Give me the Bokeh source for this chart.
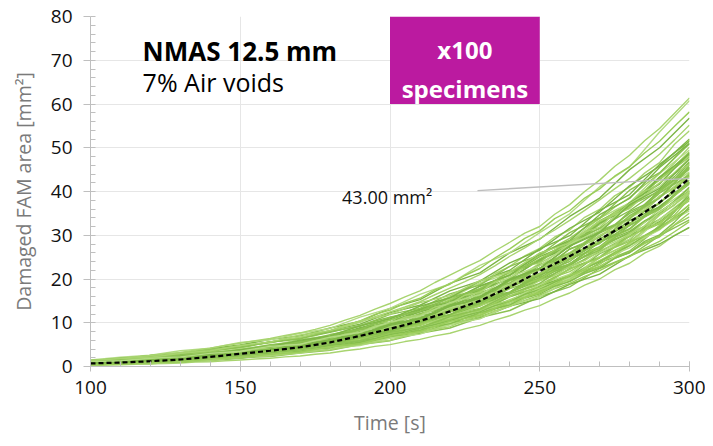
from bokeh.plotting import figure
from bokeh.models import Range1d, SingleIntervalTicker, Label, BoxAnnotation
from bokeh.embed import file_html
from bokeh.resources import INLINE

# time axis (s): coarse readings every 10 s, fine readings every 5 s
time_s = [100, 110, 120, 130, 140, 150, 160, 170, 180, 190, 200,
          210, 220, 230, 240, 250, 260, 270, 280, 290, 300]
time_fine = [100, 105, 110, 115, 120, 125, 130, 135, 140, 145, 150,
             155, 160, 165, 170, 175, 180, 185, 190, 195, 200,
             205, 210, 215, 220, 225, 230, 235, 240, 245, 250,
             255, 260, 265, 270, 275, 280, 285, 290, 295, 300]

mean_area = [0.7, 0.9, 1.2, 1.6, 2.2, 2.9, 3.6, 4.4, 5.5, 7.0, 8.6,
             10.4, 12.6, 15.0, 18.2, 21.8, 25.2, 29.0, 33.0, 37.5, 43.0]

spec01 = [0.5, 0.8, 1.0, 1.5, 1.8, 2.6, 3.2, 4.1, 5.0, 6.5, 7.8, 9.8, 11.6, 14.3, 16.9, 20.4, 23.1, 27.3, 30.5, 35.4, 39.8]
spec02 = [1.2, 1.4, 2.1, 2.6, 3.6, 4.3, 5.6, 6.5, 8.2, 9.7, 12.3, 14.0, 17.3, 19.5, 23.7, 26.6, 31.6, 35.3, 41.3, 45.8, 52.0]
spec03 = [0.8, 1.1, 1.2, 1.7, 2.0, 2.8, 3.1, 4.0, 4.7, 6.2, 7.2, 8.9, 10.4, 12.8, 14.7, 17.9, 20.3, 24.2, 27.1, 31.7, 35.6]
spec04 = [0.6, 1.0, 1.1, 1.9, 2.4, 3.4, 4.0, 5.2, 6.1, 8.1, 9.6, 12.1, 14.1, 17.3, 20.1, 24.5, 27.6, 32.9, 36.7, 42.8, 47.9]
spec05 = [1.4, 1.7, 2.5, 3.0, 4.1, 4.9, 6.2, 7.0, 8.8, 10.3, 13.3, 15.3, 19.0, 21.4, 26.0, 29.1, 34.3, 38.5, 45.0, 50.0, 56.8]
spec06 = [1.5, 2.1, 2.6, 3.6, 4.2, 5.5, 6.1, 7.6, 8.7, 11.3, 13.3, 16.5, 18.9, 23.1, 26.0, 30.6, 34.9, 41.1, 45.6, 53.6, 60.8]
spec07 = [0.3, 0.6, 0.6, 1.1, 1.3, 2.0, 2.3, 3.1, 3.7, 5.0, 5.9, 7.6, 8.8, 11.2, 12.8, 16.0, 18.2, 22.4, 25.2, 29.9, 33.5]
spec08 = [0.4, 0.5, 0.9, 1.0, 1.6, 1.9, 2.7, 3.2, 4.2, 5.1, 6.8, 7.6, 9.9, 11.0, 13.8, 15.5, 18.8, 21.1, 25.3, 28.0, 31.8]
spec09 = [0.9, 1.2, 1.4, 2.1, 2.6, 3.6, 4.2, 5.5, 6.3, 8.2, 9.6, 11.9, 13.6, 16.7, 19.0, 23.3, 26.0, 30.9, 34.0, 40.0, 44.5]
spec10 = [0.7, 0.8, 1.2, 1.4, 2.1, 2.5, 3.4, 4.0, 5.4, 6.4, 8.5, 9.8, 12.5, 14.2, 17.8, 20.1, 24.5, 27.4, 32.8, 36.3, 42.1]
spec11 = [1.0, 1.4, 1.6, 2.4, 2.9, 3.9, 4.5, 5.8, 6.8, 8.9, 10.6, 13.1, 15.0, 18.3, 20.8, 25.1, 28.0, 33.3, 36.9, 43.3, 48.3]
spec12 = [0.5, 0.6, 1.0, 1.1, 1.8, 2.1, 2.9, 3.5, 4.8, 5.7, 7.5, 8.6, 11.0, 12.5, 15.9, 18.0, 22.3, 25.1, 30.4, 33.6, 39.1]
spec13 = [0.8, 1.1, 1.3, 2.0, 2.4, 3.2, 3.7, 4.9, 5.6, 7.5, 9.0, 11.3, 13.0, 16.2, 18.4, 22.5, 25.2, 30.5, 33.7, 40.1, 45.1]
spec14 = [0.6, 0.8, 1.2, 1.3, 2.0, 2.3, 3.1, 3.6, 4.9, 5.7, 7.7, 8.8, 11.3, 12.7, 16.0, 18.2, 22.4, 24.9, 30.0, 33.1, 38.4]
spec15 = [1.1, 1.5, 1.8, 2.6, 3.1, 4.1, 4.8, 6.2, 7.1, 9.3, 10.9, 13.7, 15.5, 19.1, 21.3, 25.9, 28.5, 33.9, 37.4, 44.1, 49.5]
spec16 = [0.4, 0.7, 0.8, 1.4, 1.7, 2.5, 3.0, 4.1, 4.8, 6.6, 7.9, 10.1, 11.7, 14.8, 17.0, 21.2, 24.0, 29.2, 32.5, 38.7, 43.2]
spec17 = [0.9, 1.1, 1.7, 2.0, 2.8, 3.3, 4.4, 4.9, 6.4, 7.4, 9.7, 10.8, 13.7, 15.2, 18.9, 21.0, 25.4, 28.1, 33.4, 36.5, 41.7]
spec18 = [0.7, 1.0, 1.1, 1.7, 2.1, 2.9, 3.4, 4.4, 5.0, 6.8, 7.8, 9.8, 11.2, 14.1, 16.0, 19.8, 22.1, 27.0, 30.0, 36.0, 40.6]
spec19 = [1.3, 1.5, 2.2, 2.7, 3.7, 4.4, 5.6, 6.3, 8.0, 9.2, 11.9, 13.3, 16.6, 18.6, 22.9, 25.5, 30.6, 34.0, 40.3, 44.3, 50.9]
spec20 = [0.5, 0.8, 0.9, 1.4, 1.7, 2.4, 2.8, 3.8, 4.3, 5.9, 6.9, 8.8, 10.1, 12.8, 14.6, 18.4, 20.8, 25.8, 29.0, 35.2, 40.0]
spec21 = [0.8, 0.9, 1.4, 1.6, 2.4, 2.9, 3.9, 4.4, 5.9, 7.0, 9.3, 10.5, 13.5, 15.1, 19.0, 21.1, 25.7, 28.4, 34.0, 37.4, 43.5]
spec22 = [0.6, 0.9, 0.9, 1.5, 1.7, 2.4, 2.8, 3.7, 4.2, 5.7, 6.7, 8.6, 9.8, 12.3, 14.1, 17.4, 19.5, 23.7, 26.4, 31.9, 36.0]
spec23 = [1.0, 1.3, 1.5, 2.2, 2.7, 3.7, 4.4, 5.7, 6.6, 8.7, 10.1, 12.5, 14.3, 17.6, 20.0, 24.4, 27.3, 32.7, 36.3, 43.2, 48.6]
spec24 = [0.3, 0.6, 0.7, 1.2, 1.5, 2.2, 2.6, 3.6, 4.2, 5.9, 6.9, 9.0, 10.3, 13.1, 15.0, 18.7, 21.1, 26.0, 29.1, 35.3, 39.9]
spec25 = [0.9, 1.0, 1.5, 1.8, 2.5, 2.9, 3.9, 4.3, 5.7, 6.6, 8.8, 9.9, 12.8, 14.4, 18.3, 20.6, 25.4, 28.4, 34.5, 38.5, 45.3]
spec26 = [0.7, 1.1, 1.3, 2.0, 2.5, 3.5, 4.2, 5.5, 6.4, 8.6, 10.1, 12.9, 14.7, 18.4, 20.9, 25.8, 28.8, 34.7, 38.4, 45.5, 51.0]
spec27 = [0.5, 0.6, 1.0, 1.1, 1.7, 2.0, 2.7, 3.1, 4.2, 4.8, 6.5, 7.4, 9.6, 10.9, 14.0, 15.9, 19.9, 22.5, 27.7, 31.2, 37.0]
spec28 = [1.2, 1.6, 1.8, 2.5, 2.9, 3.8, 4.4, 5.6, 6.4, 8.4, 9.6, 12.0, 13.7, 16.9, 19.1, 23.3, 25.8, 30.8, 33.8, 39.6, 43.8]
spec29 = [0.6, 0.7, 1.2, 1.4, 2.2, 2.7, 3.8, 4.3, 5.9, 6.9, 9.4, 10.7, 13.8, 15.6, 19.8, 22.4, 27.6, 31.0, 37.4, 41.7, 48.8]
spec30 = [0.8, 1.1, 1.1, 1.7, 1.9, 2.6, 3.0, 3.9, 4.5, 6.0, 7.0, 8.8, 10.1, 12.7, 14.6, 18.0, 20.3, 25.0, 27.9, 33.7, 38.2]
spec31 = [1.0, 1.2, 1.9, 2.3, 3.2, 3.8, 5.0, 5.6, 7.3, 8.5, 11.2, 12.6, 15.8, 17.6, 21.7, 24.0, 28.7, 31.5, 36.8, 40.1, 45.6]
spec32 = [0.4, 0.7, 0.7, 1.2, 1.4, 2.1, 2.4, 3.2, 3.8, 5.1, 6.0, 7.9, 9.1, 11.9, 13.7, 17.5, 19.9, 24.9, 28.2, 34.6, 39.5]
spec33 = [0.9, 1.3, 1.5, 2.3, 2.8, 3.8, 4.6, 6.0, 7.0, 9.3, 10.9, 13.8, 15.7, 19.5, 22.0, 26.9, 29.9, 35.7, 39.3, 46.2, 51.5]
spec34 = [0.7, 0.8, 1.3, 1.5, 2.2, 2.6, 3.4, 3.9, 5.2, 6.0, 7.9, 9.0, 11.4, 12.9, 16.2, 18.2, 22.3, 24.8, 29.8, 32.9, 38.3]
spec35 = [1.1, 1.3, 1.9, 2.2, 3.0, 3.5, 4.6, 5.1, 6.7, 7.8, 10.2, 11.5, 14.6, 16.4, 20.5, 23.0, 28.0, 31.1, 37.2, 41.1, 47.6]
spec36 = [0.5, 0.8, 0.9, 1.5, 1.8, 2.6, 3.1, 4.2, 4.9, 6.7, 8.0, 10.2, 11.8, 14.8, 16.9, 20.9, 23.4, 28.4, 31.5, 37.5, 42.0]
spec37 = [0.6, 0.7, 1.2, 1.4, 2.1, 2.5, 3.3, 3.8, 5.1, 5.9, 7.8, 8.9, 11.4, 13.1, 16.6, 19.0, 23.5, 26.6, 32.3, 36.1, 42.6]
spec38 = [1.3, 1.8, 2.1, 3.0, 3.6, 4.8, 5.6, 7.2, 8.2, 10.4, 11.9, 14.6, 16.2, 19.6, 21.6, 25.9, 28.2, 33.3, 36.1, 42.0, 46.2]
spec39 = [0.8, 0.9, 1.4, 1.7, 2.5, 3.0, 4.0, 4.6, 6.2, 7.3, 9.7, 11.0, 14.1, 15.9, 20.0, 22.4, 27.5, 30.6, 37.0, 40.7, 47.4]
spec40 = [0.4, 0.5, 0.9, 1.0, 1.7, 2.0, 2.8, 3.3, 4.5, 5.2, 7.0, 8.0, 10.3, 11.7, 14.9, 16.8, 20.8, 23.3, 28.4, 31.4, 37.0]

fine01 = [0.9, 1.1, 1.0, 1.4, 1.5, 1.9, 2.0, 2.5, 2.7, 3.3, 3.6, 4.2, 4.4, 5.1, 5.4, 6.2, 6.8, 7.9, 8.6, 10.0, 10.9, 12.2, 13.0, 14.7, 15.9, 17.7, 18.8, 21.2, 22.9, 25.3, 27.0, 29.6, 31.2, 34.1, 35.9, 39.0, 41.0, 44.2, 46.6, 50.8, 53.9]
fine02 = [0.5, 0.6, 0.8, 0.8, 1.0, 1.1, 1.3, 1.5, 1.8, 2.0, 2.4, 2.5, 2.9, 3.2, 3.5, 4.0, 4.3, 5.0, 5.5, 6.4, 6.9, 7.8, 8.3, 9.4, 10.1, 11.3, 12.0, 13.6, 14.6, 16.2, 17.2, 18.9, 19.9, 21.8, 22.9, 24.9, 26.1, 28.3, 29.6, 32.3, 34.2]
fine03 = [0.8, 0.8, 1.1, 1.1, 1.4, 1.4, 1.8, 1.9, 2.4, 2.6, 3.1, 3.3, 3.9, 4.1, 4.7, 5.0, 5.9, 6.4, 7.5, 8.1, 9.4, 9.9, 11.2, 12.0, 13.6, 14.5, 16.0, 17.4, 19.6, 20.9, 23.1, 24.4, 26.8, 28.3, 30.8, 32.4, 35.0, 36.7, 39.8, 42.1, 45.5]
fine04 = [0.6, 0.7, 0.8, 0.9, 1.1, 1.2, 1.5, 1.6, 2.0, 2.2, 2.6, 2.9, 3.3, 3.6, 4.1, 4.5, 5.2, 5.8, 6.7, 7.4, 8.6, 9.3, 10.5, 11.6, 13.1, 14.3, 15.8, 17.6, 19.7, 21.4, 23.6, 25.5, 27.8, 29.9, 32.4, 34.8, 37.5, 40.1, 43.2, 46.5, 50.2]
fine05 = [0.7, 0.9, 0.9, 1.2, 1.2, 1.6, 1.6, 2.1, 2.1, 2.7, 2.8, 3.4, 3.4, 4.1, 4.1, 4.8, 5.1, 5.9, 6.4, 7.4, 7.9, 8.9, 9.4, 10.7, 11.3, 12.6, 13.3, 14.9, 16.0, 17.6, 18.7, 20.5, 21.7, 23.7, 25.0, 27.2, 28.6, 31.1, 32.6, 35.6, 37.9]
fine06 = [1.4, 1.6, 1.9, 2.1, 2.5, 2.7, 3.1, 3.5, 3.9, 4.3, 4.8, 5.1, 5.6, 6.0, 6.6, 7.1, 7.8, 8.6, 9.4, 10.4, 11.3, 12.1, 13.1, 14.3, 15.5, 16.6, 17.8, 19.5, 21.0, 22.6, 24.2, 26.1, 27.6, 29.8, 31.6, 33.7, 35.6, 38.0, 40.4, 43.4, 46.8]
fine07 = [0.3, 0.4, 0.4, 0.5, 0.6, 0.7, 0.8, 1.0, 1.1, 1.3, 1.5, 1.7, 1.9, 2.2, 2.4, 2.8, 3.1, 3.6, 4.0, 4.6, 5.0, 5.7, 6.2, 7.0, 7.6, 8.6, 9.4, 10.6, 11.6, 12.9, 13.9, 15.5, 16.8, 18.6, 20.0, 22.1, 23.6, 25.9, 27.5, 30.0, 31.8]
fine08 = [1.0, 1.3, 1.4, 1.8, 2.0, 2.4, 2.6, 3.1, 3.4, 4.0, 4.4, 5.0, 5.4, 6.1, 6.6, 7.5, 8.2, 9.4, 10.4, 11.9, 12.9, 14.5, 15.6, 17.5, 18.8, 20.8, 22.4, 24.8, 26.9, 29.3, 31.0, 33.8, 35.6, 38.5, 40.6, 43.5, 45.7, 48.8, 51.5, 54.9, 58.2]
fine09 = [0.6, 0.7, 0.9, 1.0, 1.2, 1.3, 1.5, 1.8, 2.1, 2.4, 2.8, 3.1, 3.5, 3.8, 4.3, 4.7, 5.4, 6.0, 6.9, 7.6, 8.5, 9.3, 10.2, 11.2, 12.5, 13.6, 14.8, 16.3, 18.1, 19.6, 21.3, 22.9, 24.7, 26.4, 28.4, 30.2, 32.2, 34.2, 36.6, 39.2, 42.1]
fine10 = [0.9, 0.9, 1.1, 1.2, 1.4, 1.5, 1.7, 1.9, 2.2, 2.4, 2.7, 3.0, 3.2, 3.6, 3.9, 4.3, 4.8, 5.3, 6.0, 6.6, 7.4, 8.0, 8.8, 9.6, 10.7, 11.6, 12.6, 13.9, 15.3, 16.6, 17.9, 19.5, 20.9, 22.6, 24.2, 26.1, 27.7, 29.6, 31.4, 33.6, 36.1]
fine11 = [0.7, 0.9, 1.0, 1.3, 1.4, 1.7, 1.8, 2.2, 2.5, 2.9, 3.2, 3.7, 4.0, 4.5, 4.9, 5.5, 6.2, 7.1, 7.9, 9.0, 10.0, 11.0, 11.9, 13.3, 14.6, 16.1, 17.3, 19.1, 21.0, 22.8, 24.6, 26.6, 28.5, 30.8, 32.9, 35.3, 37.4, 40.2, 42.6, 45.8, 49.1]
fine12 = [0.4, 0.6, 0.6, 0.8, 0.9, 1.2, 1.2, 1.6, 1.8, 2.2, 2.4, 2.9, 3.1, 3.6, 3.8, 4.4, 4.8, 5.6, 6.2, 7.2, 7.8, 8.8, 9.4, 10.7, 11.5, 12.9, 13.8, 15.5, 16.8, 18.6, 19.8, 21.8, 23.1, 25.3, 26.7, 29.1, 30.6, 33.2, 34.9, 37.8, 40.2]
fine13 = [1.2, 1.4, 1.7, 1.9, 2.3, 2.5, 2.9, 3.3, 3.8, 4.2, 4.7, 5.1, 5.6, 6.1, 6.7, 7.3, 8.1, 9.1, 10.1, 11.4, 12.5, 13.6, 14.8, 16.4, 17.9, 19.4, 21.0, 23.0, 25.2, 27.1, 29.2, 31.2, 33.4, 35.7, 38.1, 40.6, 43.0, 45.7, 48.5, 51.8, 55.2]
fine14 = [0.6, 0.6, 0.8, 0.8, 1.0, 1.1, 1.3, 1.4, 1.7, 1.9, 2.2, 2.4, 2.7, 3.0, 3.3, 3.6, 4.1, 4.6, 5.2, 5.8, 6.5, 7.1, 7.8, 8.7, 9.6, 10.6, 11.4, 12.6, 13.8, 15.1, 16.3, 17.8, 19.0, 20.6, 21.9, 23.7, 25.1, 27.0, 28.6, 30.8, 33.1]
fine15 = [0.8, 1.0, 1.1, 1.3, 1.5, 1.8, 1.9, 2.3, 2.5, 3.0, 3.2, 3.7, 3.9, 4.4, 4.7, 5.3, 5.8, 6.7, 7.3, 8.4, 9.1, 10.1, 10.8, 12.1, 13.1, 14.5, 15.6, 17.4, 18.8, 20.7, 22.1, 24.1, 25.6, 27.9, 29.6, 32.1, 33.9, 36.6, 38.7, 42.0, 46.1]
fine16 = [0.5, 0.6, 0.7, 0.9, 1.1, 1.3, 1.6, 1.8, 2.2, 2.5, 2.9, 3.2, 3.6, 4.0, 4.5, 5.0, 5.6, 6.3, 7.1, 8.1, 9.0, 9.8, 10.8, 11.9, 13.2, 14.3, 15.7, 17.2, 19.0, 20.5, 22.4, 24.1, 26.0, 27.9, 29.9, 31.9, 34.0, 36.2, 38.6, 41.2, 44.2]
fine17 = [1.1, 1.2, 1.5, 1.6, 2.0, 2.1, 2.5, 2.7, 3.2, 3.4, 3.9, 4.2, 4.7, 5.0, 5.6, 6.0, 6.8, 7.5, 8.5, 9.4, 10.6, 11.4, 12.5, 13.7, 15.2, 16.4, 17.8, 19.6, 21.6, 23.4, 25.3, 27.4, 29.3, 31.7, 33.8, 36.4, 38.6, 41.5, 44.1, 47.7, 51.8]
fine18 = [0.6, 0.8, 0.9, 1.1, 1.3, 1.5, 1.7, 2.0, 2.3, 2.6, 3.0, 3.3, 3.6, 4.0, 4.4, 4.8, 5.3, 5.9, 6.6, 7.4, 8.2, 8.9, 9.8, 10.7, 11.9, 12.9, 14.0, 15.3, 16.9, 18.3, 19.7, 21.3, 22.8, 24.5, 26.2, 28.1, 29.7, 31.8, 33.6, 36.1, 38.8]
fine19 = [1.3, 1.6, 1.8, 2.2, 2.5, 2.9, 3.2, 3.7, 4.2, 4.8, 5.3, 5.9, 6.4, 7.1, 7.7, 8.5, 9.4, 10.6, 11.7, 13.1, 14.4, 15.9, 17.3, 19.2, 20.9, 22.6, 24.2, 26.4, 28.4, 30.5, 32.0, 34.8, 37.0, 40.0, 42.6, 45.7, 48.3, 51.6, 54.4, 57.9, 61.4]
fine20 = [0.4, 0.5, 0.6, 0.7, 0.9, 1.0, 1.2, 1.4, 1.6, 1.9, 2.1, 2.4, 2.7, 3.0, 3.4, 3.8, 4.3, 4.8, 5.5, 6.1, 6.8, 7.5, 8.2, 9.1, 10.0, 11.0, 11.9, 13.2, 14.5, 15.8, 17.0, 18.6, 19.8, 21.5, 22.8, 24.7, 26.1, 28.1, 29.8, 32.4, 35.1]
fine21 = [0.7, 0.9, 0.8, 1.1, 1.0, 1.4, 1.3, 1.8, 1.7, 2.4, 2.3, 3.1, 3.0, 3.9, 3.8, 4.8, 4.9, 6.1, 6.4, 7.9, 8.1, 9.6, 9.7, 11.5, 11.8, 13.8, 14.1, 16.4, 17.0, 19.3, 20.1, 22.4, 23.4, 25.8, 27.0, 29.5, 30.9, 33.3, 35.1, 37.8, 41.0]
fine22 = [0.6, 0.7, 0.9, 0.8, 1.2, 1.1, 1.6, 1.5, 2.2, 2.1, 2.9, 2.8, 3.7, 3.6, 4.6, 4.7, 5.6, 6.2, 7.2, 7.7, 9.0, 9.3, 10.8, 11.2, 13.1, 13.5, 15.6, 16.3, 18.8, 19.5, 22.2, 23.0, 25.9, 26.9, 30.0, 31.2, 34.3, 35.7, 39.0, 40.6, 44.1]
fine23 = [0.8, 0.8, 1.0, 1.0, 1.3, 1.3, 1.7, 1.6, 2.1, 2.1, 2.7, 2.6, 3.3, 3.3, 4.1, 4.0, 4.9, 5.2, 6.2, 6.6, 7.6, 8.1, 9.0, 9.9, 10.8, 12.0, 12.6, 14.3, 15.0, 16.8, 17.8, 19.4, 20.8, 22.3, 24.1, 25.6, 27.9, 29.2, 32.3, 34.6, 38.5]
fine24 = [0.9, 1.0, 1.2, 1.2, 1.5, 1.6, 1.9, 2.0, 2.5, 2.6, 3.2, 3.3, 4.0, 4.1, 5.0, 5.1, 6.2, 6.6, 7.9, 8.3, 9.8, 10.1, 11.8, 12.1, 14.1, 14.5, 16.6, 17.3, 19.8, 20.5, 23.2, 24.1, 26.9, 28.0, 31.0, 32.3, 35.4, 37.0, 40.3, 42.8, 46.5]
fine25 = [0.5, 0.6, 0.7, 0.9, 1.0, 1.2, 1.3, 1.6, 1.8, 2.2, 2.4, 2.8, 3.0, 3.5, 3.8, 4.4, 4.9, 5.6, 6.2, 7.1, 7.8, 8.6, 9.5, 10.4, 11.6, 12.5, 13.9, 15.0, 16.6, 17.8, 19.6, 20.8, 22.9, 24.2, 26.5, 27.9, 30.4, 32.1, 34.7, 36.9, 40.2]
fine26 = [0.7, 0.9, 0.9, 1.2, 1.2, 1.6, 1.6, 2.1, 2.1, 2.7, 2.8, 3.4, 3.5, 4.2, 4.3, 5.1, 5.4, 6.4, 6.8, 8.0, 8.6, 9.8, 10.3, 11.8, 12.4, 14.1, 14.8, 16.9, 17.9, 20.1, 21.1, 23.5, 24.7, 27.1, 28.5, 31.1, 32.5, 35.5, 37.2, 40.6, 43.6]
fine27 = [0.6, 0.8, 0.8, 1.0, 1.0, 1.3, 1.3, 1.7, 1.7, 2.2, 2.2, 2.8, 2.8, 3.4, 3.5, 4.1, 4.3, 5.1, 5.5, 6.4, 6.9, 7.8, 8.2, 9.3, 9.8, 11.1, 11.7, 13.2, 14.1, 15.6, 16.6, 18.3, 19.4, 21.3, 22.5, 24.7, 26.0, 28.6, 30.1, 33.0, 36.5]
fine28 = [0.8, 1.1, 1.0, 1.5, 1.4, 2.0, 1.9, 2.5, 2.5, 3.2, 3.3, 4.0, 4.1, 4.9, 5.0, 5.9, 6.2, 7.4, 7.8, 9.3, 9.8, 11.3, 11.7, 13.6, 14.2, 16.3, 16.9, 19.4, 20.2, 22.9, 23.7, 26.6, 27.7, 30.7, 31.8, 35.1, 36.5, 40.0, 41.8, 45.4, 48.2]
fine29 = [0.6, 0.7, 0.8, 1.0, 1.1, 1.3, 1.4, 1.7, 1.9, 2.2, 2.5, 2.8, 3.1, 3.5, 3.9, 4.3, 4.8, 5.6, 6.3, 7.2, 7.9, 8.9, 9.6, 10.9, 11.7, 13.1, 14.0, 15.8, 16.9, 18.8, 20.0, 22.1, 23.4, 25.8, 27.2, 29.8, 31.3, 34.2, 35.9, 39.0, 42.0]
fine30 = [0.9, 0.9, 1.1, 1.2, 1.4, 1.5, 1.8, 1.8, 2.2, 2.3, 2.7, 2.9, 3.3, 3.5, 4.0, 4.2, 4.8, 5.2, 5.9, 6.4, 7.3, 7.9, 8.8, 9.6, 10.5, 11.6, 12.5, 13.9, 14.9, 16.5, 17.6, 19.3, 20.6, 22.5, 23.9, 26.0, 27.6, 29.9, 31.9, 35.3, 39.6]

specimens = [spec01, spec02, spec03, spec04, spec05, spec06, spec07, spec08, spec09, spec10,
             spec11, spec12, spec13, spec14, spec15, spec16, spec17, spec18, spec19, spec20,
             spec21, spec22, spec23, spec24, spec25, spec26, spec27, spec28, spec29, spec30,
             spec31, spec32, spec33, spec34, spec35, spec36, spec37, spec38, spec39, spec40]
fine_specimens = [fine01, fine02, fine03, fine04, fine05, fine06, fine07, fine08, fine09, fine10,
                  fine11, fine12, fine13, fine14, fine15, fine16, fine17, fine18, fine19, fine20,
                  fine21, fine22, fine23, fine24, fine25, fine26, fine27, fine28, fine29, fine30]

greens = ["#8CC152", "#A8D46F", "#7DB646", "#9ACD5A", "#B3DB83", "#86BE4C"]

FONT = "Open Sans"

p = figure(width=705, height=438, output_backend="svg", toolbar_location=None,
           x_range=Range1d(100, 300), y_range=Range1d(0, 80),
           min_border_left=90, min_border_right=16, min_border_top=16, min_border_bottom=69)
p.outline_line_color = None
p.background_fill_color = "white"
p.border_fill_color = "white"

p.xaxis.ticker = SingleIntervalTicker(interval=50, num_minor_ticks=5)
p.yaxis.ticker = SingleIntervalTicker(interval=10, num_minor_ticks=5)

p.xgrid.grid_line_color = "#e6e6e6"
p.ygrid.grid_line_color = "#e6e6e6"

for ax in (p.xaxis[0], p.yaxis[0]):
    ax.axis_line_color = "#bfbfbf"
    ax.major_tick_line_color = "#bfbfbf"
    ax.minor_tick_line_color = "#bfbfbf"
    ax.major_label_text_font = FONT
    ax.major_label_text_font_size = "19px"
    ax.major_label_text_color = "#111111"
    ax.axis_label_text_font = FONT
    ax.axis_label_text_font_size = "19.5px"
    ax.axis_label_text_color = "#7a7a7a"
    ax.axis_label_text_font_style = "normal"

p.xaxis.major_tick_in = 5
p.xaxis.major_tick_out = 5
p.xaxis.minor_tick_in = 5
p.xaxis.minor_tick_out = 0
p.xaxis.major_label_standoff = 9
p.xaxis.axis_label = "Time [s]"
p.xaxis.axis_label_standoff = 12

p.yaxis.major_tick_in = 0
p.yaxis.major_tick_out = 7
p.yaxis.minor_tick_in = 5
p.yaxis.minor_tick_out = 0
p.yaxis.major_label_standoff = 11
p.yaxis.axis_label = "Damaged FAM area [mm²]"
p.yaxis.axis_label_standoff = 11

n = 0
for i in range(max(len(specimens), len(fine_specimens))):
    if i < len(specimens):
        p.line(time_s, specimens[i], line_color=greens[n % len(greens)], line_width=1.4)
        n += 1
    if i < len(fine_specimens):
        p.line(time_fine, fine_specimens[i], line_color=greens[n % len(greens)], line_width=1.4)
        n += 1

p.line(time_s, mean_area, line_color="black", line_width=2.2, line_dash="5 3")

# leader line for the annotation
p.line([229.2, 300], [40.2, mean_area[-1]], line_color="#bdbdbd", line_width=1.5)
p.add_layout(Label(x=184.0, y=38.7, text="%.2f mm²" % mean_area[-1], text_font=FONT,
                   text_font_size="18px", text_color="#111111", text_baseline="alphabetic"))

p.add_layout(BoxAnnotation(left=200, right=250, bottom=60, top=80, fill_color="#BB1AA0",
                           fill_alpha=1.0, line_color=None))
p.add_layout(Label(x=225, y=72.45, text="x100", text_font=FONT, text_font_size="24px",
                   text_font_style="bold", text_color="white", text_align="center",
                   text_baseline="alphabetic"))
p.add_layout(Label(x=225, y=63.6, text="specimens", text_font=FONT, text_font_size="24px",
                   text_font_style="bold", text_color="white", text_align="center",
                   text_baseline="alphabetic"))

p.add_layout(Label(x=117.4, y=72.1, text="NMAS 12.5 mm", text_font=FONT,
                   text_font_size="26px", text_font_style="bold", text_color="black",
                   text_baseline="alphabetic"))
p.add_layout(Label(x=117.4, y=65.1, text="7% Air voids", text_font=FONT,
                   text_font_size="25px", text_color="black", text_baseline="alphabetic"))

open("out.html", "w").write(file_html(p, INLINE))
